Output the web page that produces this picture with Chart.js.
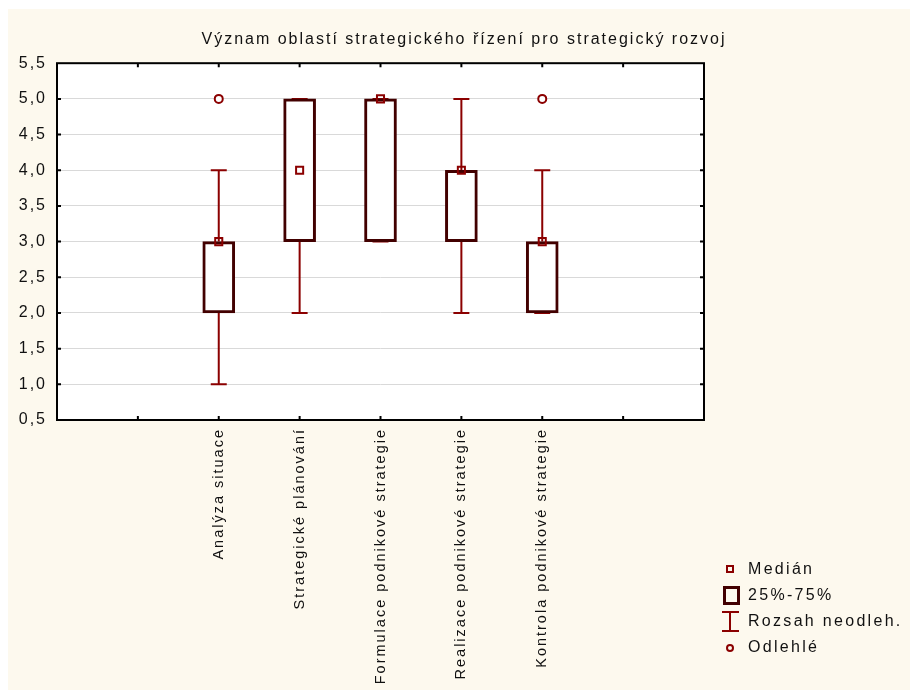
<!DOCTYPE html>
<html lang="cs">
<head>
<meta charset="utf-8">
<title>Význam oblastí strategického řízení pro strategický rozvoj</title>
<script src="https://cdn.jsdelivr.net/npm/chart.js@4.4.1/dist/chart.umd.min.js"></script>
<style>
  html, body { margin: 0; padding: 0; background: #fff; }
  #wrap { position: relative; width: 910px; height: 690px; }
  #legend {
    position: absolute; left: 721px; top: 556px;
    font: 16px "Liberation Sans", Arial, sans-serif;
    letter-spacing: 2.3px; color: #111;
  }
  .row { position: relative; height: 26px; line-height: 26px; padding-left: 27px; white-space: nowrap; }
  .ico { position: absolute; box-sizing: border-box; }
  .med { left: 5px; top: 9px; width: 8px; height: 8px; border: 2px solid #8b0000; }
  .box { left: 2px; top: 4px; width: 17px; height: 19px; border: 3px solid #420000; }
  .rng { left: 1px; top: 3px; width: 17px; height: 21px; border-top: 2px solid #8b0000; border-bottom: 2px solid #8b0000; }
  .rng::before { content: ""; position: absolute; left: 7px; top: 0; width: 2px; height: 17px; background: #8b0000; }
  .out { left: 5px; top: 10px; width: 8px; height: 8px; border: 2px solid #8b0000; border-radius: 50%; }
</style>
</head>
<body>
<div id="wrap">
  <canvas id="chart"></canvas>
  <div id="legend">
    <div class="row"><span class="ico med"></span>Medián</div>
    <div class="row"><span class="ico box"></span>25%-75%</div>
    <div class="row"><span class="ico rng"></span>Rozsah neodleh.</div>
    <div class="row"><span class="ico out"></span>Odlehlé</div>
  </div>
</div>
<script>
// values
const categories = [
  'Analýza situace',
  'Strategické plánování',
  'Formulace podnikové strategie',
  'Realizace podnikové strategie',
  'Kontrola podnikové strategie'
];
const q1Values = [2, 3, 3, 3, 2];
const q3Values = [3, 5, 5, 4, 3];
const medianValues = [3, 4, 5, 4, 3];
const rangeLow = [1, 2, 3, 2, 2];
const rangeHigh = [4, 5, 5, 5, 4];
const outlierValues = [[5], [], [], [], [5]];

const titleText = 'Význam oblastí strategického řízení pro strategický rozvoj';

// categories sit on slots 2..6 of an axis running 0..8
const slotOf = (i) => i + 2;

const boxColor = '#420000';
const rangeColor = '#8b0000';
const cream = '#fdf9ee';
const fontFamily = '"Liberation Sans", Arial, sans-serif';

const backgroundPlugin = {
  id: 'background',
  beforeDraw(chart) {
    const { ctx, chartArea: a, width, height } = chart;
    ctx.save();
    ctx.fillStyle = '#ffffff';
    ctx.fillRect(0, 0, width, height);
    ctx.fillStyle = cream;
    ctx.fillRect(8, 9, width - 8, height - 9);
    ctx.fillStyle = '#ffffff';
    ctx.fillRect(a.left, a.top, a.right - a.left, a.bottom - a.top);
    ctx.restore();
    ctx.letterSpacing = '2px';
  }
};

const whiskerPlugin = {
  id: 'whiskers',
  beforeDatasetsDraw(chart) {
    const { ctx, scales: { x, y } } = chart;
    ctx.save();
    ctx.strokeStyle = rangeColor;
    ctx.lineWidth = 2;
    categories.forEach((c, i) => {
      const px = x.getPixelForValue(slotOf(i));
      const lo = y.getPixelForValue(rangeLow[i]);
      const hi = y.getPixelForValue(rangeHigh[i]);
      const b1 = y.getPixelForValue(q1Values[i]);
      const b3 = y.getPixelForValue(q3Values[i]);
      ctx.beginPath();
      ctx.moveTo(px, b3); ctx.lineTo(px, hi);
      ctx.moveTo(px, b1); ctx.lineTo(px, lo);
      ctx.moveTo(px - 8, hi); ctx.lineTo(px + 8, hi);
      ctx.moveTo(px - 8, lo); ctx.lineTo(px + 8, lo);
      ctx.stroke();
    });
    ctx.restore();
  }
};

const framePlugin = {
  id: 'frame',
  afterDraw(chart) {
    const { ctx, chartArea: a, scales: { x, y } } = chart;
    ctx.save();
    ctx.strokeStyle = '#000';
    ctx.lineWidth = 2;
    ctx.strokeRect(a.left, a.top, a.right - a.left, a.bottom - a.top);
    ctx.beginPath();
    for (let v = 1; v <= 5; v += 0.5) {
      const py = y.getPixelForValue(v);
      ctx.moveTo(a.left, py); ctx.lineTo(a.left + 4, py);
      ctx.moveTo(a.right, py); ctx.lineTo(a.right - 4, py);
    }
    for (let s = 1; s <= 7; s++) {
      const px = x.getPixelForValue(s);
      ctx.moveTo(px, a.top); ctx.lineTo(px, a.top + 4);
      ctx.moveTo(px, a.bottom); ctx.lineTo(px, a.bottom - 4);
    }
    ctx.stroke();
    ctx.restore();
  }
};

const ctx = document.getElementById('chart').getContext('2d');
new Chart(ctx, {
  type: 'bar',
  data: {
    datasets: [
      {
        type: 'scatter',
        label: 'Medián',
        data: categories.map((c, i) => ({ x: slotOf(i), y: medianValues[i] })),
        pointStyle: 'rect',
        pointRadius: 5,
        pointBorderWidth: 2,
        borderColor: rangeColor,
        backgroundColor: 'transparent',
        order: 1
      },
      {
        type: 'scatter',
        label: 'Odlehlé',
        data: outlierValues.flatMap((vals, i) => vals.map(v => ({ x: slotOf(i), y: v }))),
        pointStyle: 'circle',
        pointRadius: 4,
        pointBorderWidth: 2,
        borderColor: rangeColor,
        backgroundColor: '#ffffff',
        order: 1
      },
      {
        label: '25%-75%',
        data: categories.map((c, i) => ({ x: slotOf(i), y: [q1Values[i], q3Values[i]] })),
        backgroundColor: '#ffffff',
        borderColor: boxColor,
        borderWidth: 3,
        borderSkipped: false,
        barThickness: 32,
        order: 2
      }
    ]
  },
  options: {
    responsive: true,
    maintainAspectRatio: false,
    animation: false,
    layout: { padding: { left: 18, right: 0, top: 0, bottom: 0 } },
    plugins: {
      legend: { display: false },
      tooltip: { enabled: false },
      title: {
        display: true,
        text: titleText,
        color: '#111',
        font: { family: fontFamily, size: 16, weight: 'normal' },
        padding: { top: 30, bottom: 14 }
      }
    },
    scales: {
      x: {
        type: 'linear',
        offset: false,
        min: 0,
        max: 8,
        grid: { display: false, drawTicks: false, offset: false },
        border: { display: false },
        ticks: {
          stepSize: 1,
          autoSkip: false,
          maxRotation: 90,
          minRotation: 90,
          padding: 8,
          color: '#111',
          font: { family: fontFamily, size: 14.5 },
          callback: (v) => categories[v - 2] ?? ''
        },
        afterFit: (s) => { s.height = 270; }
      },
      y: {
        min: 0.5,
        max: 5.5,
        grid: { color: '#d9d9d9', lineWidth: 1, drawTicks: false },
        border: { display: false },
        ticks: {
          stepSize: 0.5,
          padding: 10,
          color: '#111',
          font: { family: fontFamily, size: 16 },
          callback: (v) => v.toFixed(1).replace('.', ',')
        },
        afterFit: (s) => { s.width = 39; }
      },
      yRight: {
        position: 'right',
        display: true,
        grid: { display: false, drawTicks: false },
        border: { display: false },
        ticks: { display: false },
        afterFit: (s) => { s.width = 206; }
      }
    }
  },
  plugins: [backgroundPlugin, whiskerPlugin, framePlugin]
});
</script>
</body>
</html>
